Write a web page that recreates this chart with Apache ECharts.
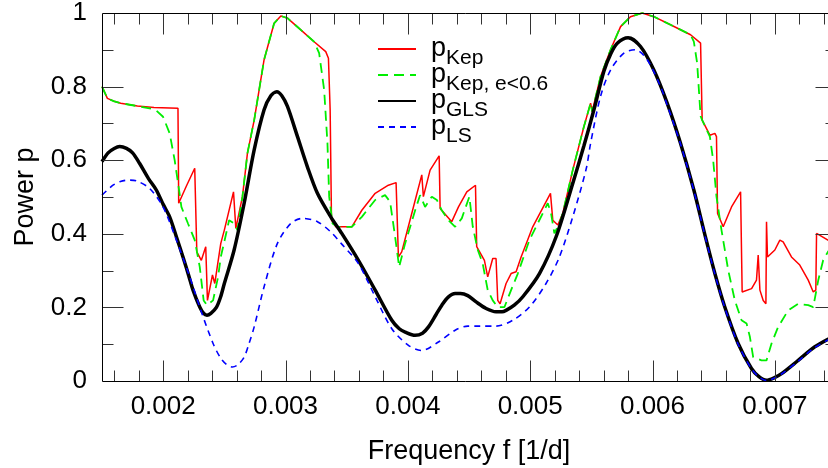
<!DOCTYPE html>
<html>
<head>
<meta charset="utf-8">
<script src="https://cdn.jsdelivr.net/npm/echarts@6/dist/echarts.min.js"></script>
<style>
html,body{margin:0;padding:0;background:#fff;}
#chart{width:828px;height:468px;}
</style>
</head>
<body>
<div id="chart"></div>
<script>
// ---------- data ----------
const seriesNames = ['Kep', 'Kep, e<0.6', 'GLS', 'LS'];

const X_MIN = 0.0015, X_MAX = 0.0075;
const xMajorTicks = [0.002, 0.003, 0.004, 0.005, 0.006, 0.007];
const xMinorTicks = [0.0016, 0.0018, 0.0022, 0.0024, 0.0026, 0.0028, 0.0032, 0.0034, 0.0036, 0.0038,
  0.0042, 0.0044, 0.0046, 0.0048, 0.0052, 0.0054, 0.0056, 0.0058, 0.0062, 0.0064, 0.0066, 0.0068,
  0.0072, 0.0074];
const yMajorTicks = [0.2, 0.4, 0.6, 0.8];
const yMinorTicks = [0.1, 0.3, 0.5, 0.7, 0.9];

const kepF = [0.0015, 0.001544, 0.0016, 0.001653, 0.001789, 0.001925, 0.002121, 0.002127, 0.00219, 0.002258,
  0.002275, 0.002312, 0.002348, 0.002362, 0.002403, 0.002422, 0.002471, 0.0025, 0.002575, 0.002594,
  0.002648, 0.002689, 0.002744, 0.002825, 0.002907, 0.002962, 0.003016, 0.003125, 0.003234, 0.003329,
  0.003351, 0.003365, 0.003376, 0.003411, 0.003542, 0.003624, 0.003733, 0.003841, 0.003904, 0.003923,
  0.00395, 0.004032, 0.004114, 0.004127, 0.004182, 0.004256, 0.004264, 0.004359, 0.004414, 0.004482,
  0.004553, 0.004563, 0.004626, 0.004653, 0.004694, 0.004721, 0.004735, 0.004754, 0.004803, 0.004844,
  0.004885, 0.004926, 0.005021, 0.005166, 0.005185, 0.005226, 0.005266, 0.005348, 0.005439, 0.005494,
  0.005507, 0.005575, 0.005657, 0.005739, 0.00582, 0.005916, 0.006011, 0.006147, 0.006311, 0.006393,
  0.006406, 0.006469, 0.00651, 0.006523, 0.006532, 0.006578, 0.006646, 0.00672, 0.006733, 0.00681,
  0.00685, 0.006864, 0.006878, 0.006905, 0.006927, 0.006932, 0.00694, 0.007, 0.007041, 0.007068,
  0.007136, 0.007204, 0.007218, 0.007273, 0.007314, 0.007335, 0.007341, 0.007434, 0.0075];
const kepP = [0.800, 0.768, 0.760, 0.755, 0.747, 0.743, 0.741, 0.483, 0.530, 0.578,
  0.351, 0.328, 0.365, 0.219, 0.288, 0.265, 0.374, 0.410, 0.514, 0.415,
  0.501, 0.619, 0.709, 0.873, 0.972, 0.992, 0.986, 0.954, 0.922, 0.895,
  0.877, 0.737, 0.437, 0.419, 0.419, 0.464, 0.510, 0.532, 0.539, 0.337,
  0.351, 0.455, 0.560, 0.501, 0.573, 0.612, 0.469, 0.433, 0.473, 0.514,
  0.532, 0.365, 0.328, 0.283, 0.333, 0.333, 0.219, 0.210, 0.265, 0.292,
  0.297, 0.337, 0.419, 0.510, 0.437, 0.424, 0.455, 0.573, 0.691, 0.755,
  0.732, 0.827, 0.900, 0.963, 0.990, 1.000, 0.990, 0.968, 0.941, 0.918,
  0.709, 0.668, 0.673, 0.664, 0.455, 0.419, 0.473, 0.514, 0.242, 0.251,
  0.274, 0.342, 0.247, 0.219, 0.210, 0.433, 0.337, 0.356, 0.383, 0.378,
  0.337, 0.315, 0.310, 0.274, 0.242, 0.247, 0.401, 0.383, 0.370];

const kepEF = [0.0015, 0.001544, 0.0016, 0.001653, 0.001789, 0.0019, 0.001944, 0.001999, 0.002053, 0.002094,
  0.00213, 0.002149, 0.002203, 0.002258, 0.002299, 0.002331, 0.002358, 0.002408, 0.002449, 0.002471,
  0.002503, 0.002539, 0.00258, 0.002607, 0.002648, 0.002689, 0.002744, 0.002825, 0.002907, 0.002962,
  0.003016, 0.003125, 0.003234, 0.003275, 0.003316, 0.003343, 0.003357, 0.003384, 0.003425, 0.003542,
  0.003624, 0.003733, 0.003814, 0.003855, 0.003896, 0.003929, 0.003978, 0.00406, 0.0041, 0.004141,
  0.004196, 0.004237, 0.004277, 0.004332, 0.004387, 0.004441, 0.004503, 0.004531, 0.004572, 0.004612,
  0.004653, 0.004694, 0.004735, 0.00479, 0.004844, 0.004899, 0.004994, 0.005144, 0.005171, 0.005198,
  0.005239, 0.005266, 0.005348, 0.005439, 0.005494, 0.005507, 0.005575, 0.005657, 0.005739, 0.00582,
  0.005916, 0.006011, 0.006147, 0.006311, 0.006338, 0.006365, 0.006393, 0.006406, 0.006469, 0.006496,
  0.006523, 0.006564, 0.006619, 0.006673, 0.006728, 0.006769, 0.006796, 0.006823, 0.006891, 0.006932,
  0.006973, 0.007027, 0.007109, 0.007191, 0.007273, 0.007314, 0.007355, 0.007395, 0.007434, 0.0075];
const kepEP = [0.800, 0.768, 0.760, 0.755, 0.747, 0.740, 0.735, 0.718, 0.673, 0.600,
  0.519, 0.473, 0.428, 0.383, 0.310, 0.219, 0.206, 0.219, 0.283, 0.337,
  0.383, 0.437, 0.428, 0.410, 0.501, 0.619, 0.709, 0.873, 0.972, 0.992,
  0.986, 0.954, 0.922, 0.891, 0.791, 0.646, 0.501, 0.428, 0.419, 0.419,
  0.446, 0.492, 0.505, 0.487, 0.392, 0.310, 0.374, 0.464, 0.505, 0.473,
  0.501, 0.492, 0.464, 0.437, 0.419, 0.442, 0.501, 0.419, 0.356, 0.319,
  0.247, 0.219, 0.201, 0.201, 0.247, 0.292, 0.383, 0.483, 0.455, 0.401,
  0.428, 0.455, 0.573, 0.691, 0.755, 0.732, 0.827, 0.900, 0.963, 0.990,
  1.000, 0.990, 0.968, 0.941, 0.922, 0.864, 0.720, 0.709, 0.664, 0.600,
  0.501, 0.410, 0.301, 0.219, 0.165, 0.156, 0.120, 0.065, 0.056, 0.056,
  0.102, 0.147, 0.192, 0.210, 0.206, 0.201, 0.274, 0.328, 0.351, 0.380];

const glsF = [0.0015, 0.00155, 0.0016, 0.001645, 0.0017, 0.00175, 0.001808, 0.00188, 0.001944, 0.002,
  0.002053, 0.00211, 0.002162, 0.00221, 0.002244, 0.002299, 0.00233, 0.002358, 0.00239, 0.002435,
  0.00247, 0.0025, 0.00258, 0.002662, 0.002744, 0.002825, 0.00288, 0.002929, 0.00297, 0.003016,
  0.003098, 0.003179, 0.003261, 0.00337, 0.00346, 0.003596, 0.003733, 0.003869, 0.00393, 0.003978,
  0.00406, 0.00412, 0.004169, 0.00423, 0.004278, 0.00433, 0.004387, 0.00443, 0.00449, 0.004558,
  0.00464, 0.004721, 0.00477, 0.004803, 0.00487, 0.00494, 0.005076, 0.005212, 0.005348, 0.00544,
  0.005521, 0.005602, 0.00566, 0.005712, 0.005801, 0.005902, 0.006011, 0.00612, 0.006229, 0.006338,
  0.00643, 0.00651, 0.006591, 0.0067, 0.006809, 0.00687, 0.006932, 0.00699, 0.007055, 0.007191,
  0.007327, 0.0075];
const glsP = [0.596, 0.620, 0.632, 0.637, 0.632, 0.620, 0.591, 0.550, 0.519, 0.480,
  0.446, 0.390, 0.337, 0.285, 0.247, 0.201, 0.184, 0.179, 0.184, 0.200,
  0.229, 0.265, 0.356, 0.483, 0.628, 0.737, 0.775, 0.786, 0.775, 0.746,
  0.664, 0.582, 0.510, 0.446, 0.401, 0.328, 0.247, 0.165, 0.142, 0.133,
  0.124, 0.130, 0.147, 0.180, 0.206, 0.228, 0.238, 0.238, 0.232, 0.215,
  0.197, 0.188, 0.188, 0.192, 0.206, 0.229, 0.292, 0.392, 0.537, 0.640,
  0.737, 0.841, 0.890, 0.918, 0.933, 0.909, 0.845, 0.755, 0.646, 0.519,
  0.395, 0.292, 0.201, 0.102, 0.034, 0.012, 0.002, 0.008, 0.020, 0.056,
  0.093, 0.125];

const lsF = [0.0015, 0.00159, 0.00165, 0.00172, 0.00178, 0.00189, 0.001999, 0.002108, 0.002217, 0.002312,
  0.002408, 0.00247, 0.00252, 0.002566, 0.00261, 0.002662, 0.0027, 0.002744, 0.002825, 0.002934,
  0.003043, 0.003139, 0.003261, 0.00337, 0.00346, 0.003596, 0.003733, 0.003869, 0.004005, 0.004114,
  0.00425, 0.004387, 0.00449, 0.004585, 0.004721, 0.004858, 0.004994, 0.00513, 0.005239, 0.005348,
  0.005457, 0.005494, 0.005575, 0.005657, 0.005766, 0.005861, 0.005957, 0.006066, 0.00612, 0.006229,
  0.006338, 0.00643, 0.00651, 0.006591, 0.0067, 0.006809, 0.00687, 0.006932, 0.00699, 0.007055,
  0.007191, 0.007327, 0.0075];
const lsP = [0.505, 0.532, 0.542, 0.546, 0.544, 0.523, 0.473, 0.383, 0.283, 0.188,
  0.102, 0.062, 0.044, 0.038, 0.044, 0.065, 0.100, 0.147, 0.256, 0.374,
  0.428, 0.442, 0.433, 0.405, 0.372, 0.319, 0.229, 0.142, 0.097, 0.083,
  0.106, 0.138, 0.149, 0.149, 0.149, 0.165, 0.201, 0.265, 0.337, 0.446,
  0.575, 0.646, 0.773, 0.845, 0.891, 0.900, 0.873, 0.800, 0.750, 0.644,
  0.517, 0.393, 0.290, 0.199, 0.100, 0.033, 0.011, 0.001, 0.007, 0.019,
  0.054, 0.091, 0.123];

// ---------- chart ----------
const FONT = 'Liberation Sans';
const pair = (fs, ps) => fs.map((f, i) => [f, ps[i]]);

// frame + inward ticks on all four sides, placed through the axes' own scales
function renderFrame(params, api) {
  const r = v => Math.round(v) + 0.5;
  const xl = r(api.coord([X_MIN, 0])[0]);
  const xr = r(api.coord([X_MAX, 0])[0]);
  const yb = r(api.coord([X_MIN, 0])[1]);
  const yt = r(api.coord([X_MIN, 1])[1]);
  let frame = 'M' + xl + ',' + yb + 'L' + xr + ',' + yb + 'L' + xr + ',' + yt + 'L' + xl + ',' + yt + 'Z';
  let ticks = '';
  const xt = (vals, len) => vals.forEach(v => {
    const x = r(api.coord([v, 0])[0]);
    ticks += 'M' + x + ',' + yb + 'L' + x + ',' + (yb - len) + 'M' + x + ',' + yt + 'L' + x + ',' + (yt + len);
  });
  const ytk = (vals, len) => vals.forEach(v => {
    const y = r(api.coord([X_MIN, v])[1]);
    ticks += 'M' + xl + ',' + y + 'L' + (xl + len) + ',' + y + 'M' + xr + ',' + y + 'L' + (xr - len) + ',' + y;
  });
  xt(xMajorTicks, 21); xt(xMinorTicks, 11);
  ytk(yMajorTicks, 21); ytk(yMinorTicks, 11);
  return {
    type: 'group',
    children: [
      { type: 'path', shape: { pathData: ticks }, style: { stroke: '#333', lineWidth: 1, fill: null } },
      { type: 'path', shape: { pathData: frame }, style: { stroke: '#000', lineWidth: 1, fill: null } }
    ]
  };
}

const chart = echarts.init(document.getElementById('chart'), null, { renderer: 'canvas' });
chart.setOption({
  animation: false,
  backgroundColor: '#fff',
  grid: { left: 102, top: 13, width: 734, bottom: 87, containLabel: false, outerBoundsMode: 'none' },
  xAxis: {
    type: 'value', min: X_MIN, max: X_MAX, position: 'bottom',
    name: 'Frequency f [1/d]', nameLocation: 'middle', nameGap: 57,
    nameTextStyle: { fontFamily: FONT, fontSize: 27, color: '#000' },
    axisLine: { show: false }, axisTick: { show: false },
    axisLabel: { show: true, customValues: xMajorTicks, margin: 13, fontFamily: FONT, fontSize: 26, color: '#000',
      formatter: v => v.toFixed(3) },
    splitLine: { show: false }, minorTick: { show: false }
  },
  yAxis: {
    type: 'value', min: 0, max: 1, interval: 0.2, position: 'left',
    name: 'Power p', nameLocation: 'middle', nameGap: 63,
    nameTextStyle: { fontFamily: FONT, fontSize: 27, color: '#000' },
    axisLine: { show: false }, axisTick: { show: false }, minorTick: { show: false },
    axisLabel: { show: true, margin: 15, fontFamily: FONT, fontSize: 26, color: '#000',
      formatter: v => String(+v.toFixed(1)) },
    splitLine: { show: false }, minorSplitLine: { show: false }
  },
  legend: {
    left: 377, top: 29, orient: 'vertical', padding: 0,
    itemWidth: 38, itemHeight: 14, itemGap: -14,
    data: seriesNames,
    itemStyle: { opacity: 0 },
    formatter: n => '{m|p}{s|' + n + '}',
    textStyle: {
      color: '#000',
      rich: {
        m: { fontFamily: FONT, fontSize: 27, lineHeight: 27, padding: [0, 0, 0, 10], color: '#000' },
        s: { fontFamily: FONT, fontSize: 21, lineHeight: 7, padding: [19, 0, 0, 0], color: '#000' }
      }
    }
  },
  series: [
    { name: seriesNames[0], type: 'line', data: pair(kepF, kepP), showSymbol: false, symbol: 'none',
      lineStyle: { color: '#ff0000', width: 1.5 }, itemStyle: { color: '#ff0000' }, z: 2 },
    { name: seriesNames[1], type: 'line', data: pair(kepEF, kepEP), showSymbol: false, symbol: 'none',
      lineStyle: { color: '#00ee00', width: 1.8, type: [10, 6] }, itemStyle: { color: '#00ee00' }, z: 3 },
    { name: seriesNames[2], type: 'line', data: pair(glsF, glsP), showSymbol: false, symbol: 'none', smooth: 0.3,
      lineStyle: { color: '#000000', width: 3.5 }, itemStyle: { color: '#000000' }, z: 4 },
    { name: seriesNames[3], type: 'line', data: pair(lsF, lsP), showSymbol: false, symbol: 'none', smooth: 0.3,
      lineStyle: { color: '#0000ff', width: 1.6, type: [6, 5] }, itemStyle: { color: '#0000ff' }, z: 5 },
    { name: 'frame', type: 'custom', renderItem: renderFrame, data: [[X_MIN, 0]], clip: false, silent: true, z: 10 }
  ]
});
</script>
</body>
</html>
